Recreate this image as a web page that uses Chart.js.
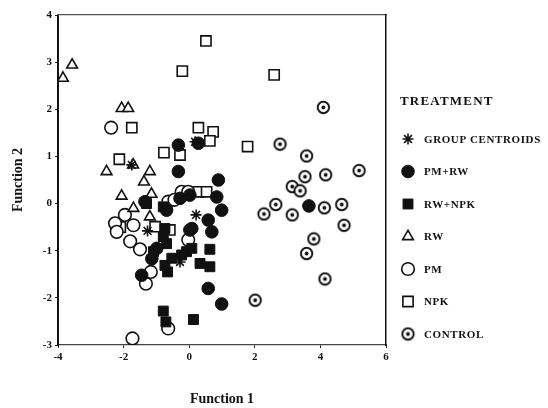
<!DOCTYPE html>
<html lang="en">
<head>
    <meta charset="UTF-8">
    <title>Discriminant functions by treatment</title>
    <script src="https://cdn.jsdelivr.net/npm/chart.js@4.4.0/dist/chart.umd.min.js"></script>
    <style>
        html, body { margin: 0; padding: 0; background: #fff; }
        #wrap { width: 548px; height: 408px; }
    </style>
</head>
<body>
    <div id="wrap"><canvas id="dfChart" width="548" height="408"></canvas></div>

    <script>
        // Function 1 / Function 2 scores
        const centroidX = [0.18, 0.21, -1.27, -0.28, -1.75, 3.65];
        const centroidY = [1.31, -0.24, -0.58, -1.24, 0.82, -0.05];

        const pmrwX = [-0.33, 0.28, -0.33, 0.89, 0.84, 0.99, 0.58, 0.69, 0.02, 0.58, 0.99, 0.02, -0.28, -1.35, -0.99, -1.45, -0.69, -1.14, 0.08, 3.65];
        const pmrwY = [1.24, 1.28, 0.68, 0.50, 0.14, -0.14, -0.35, -0.60, -0.56, -1.80, -2.13, 0.18, 0.11, 0.04, -0.95, -1.52, -0.14, -1.17, -0.53, -0.05];

        const rwnpkX = [-0.79, -0.71, 0.13, -0.66, 0.33, 0.63, 0.63, -0.74, -0.69, -0.53, -0.08, 0.08, -1.09, -0.79, -0.74, -0.23, -1.30, -0.79];
        const rwnpkY = [-2.28, -2.51, -2.46, -1.45, -1.27, -1.34, -0.97, -0.53, -0.85, -1.16, -1.02, -0.95, -1.02, -0.70, -1.31, -1.09, 0.00, -0.07];

        const rwX = [-3.85, -3.57, -2.06, -1.86, -2.52, -1.71, -1.20, -1.38, -2.06, -1.70, -1.20, -1.15];
        const rwY = [2.66, 2.94, 2.02, 2.02, 0.68, 0.82, 0.68, 0.46, 0.16, -0.10, -0.28, 0.20];

        const pmX = [-2.38, -1.73, -0.64, -1.32, -1.17, -2.26, -2.21, -1.96, -1.70, -1.80, -1.50, -0.64, -0.45, -0.23, -0.03, -0.03];
        const pmY = [1.61, -2.86, -2.65, -1.70, -1.45, -0.42, -0.60, -0.24, -0.46, -0.80, -0.97, 0.04, 0.08, 0.25, 0.25, -0.77];

        const npkX = [0.51, -0.21, 2.59, 0.28, 0.73, 0.63, -0.77, -0.28, 1.78, -1.75, -2.13, -1.04, -0.59, 0.28, 0.53, -2.10];
        const npkY = [3.45, 2.81, 2.73, 1.61, 1.52, 1.33, 1.08, 1.03, 1.21, 1.61, 0.94, -0.49, -0.56, 0.25, 0.25, -0.50];

        const controlX = [4.09, 2.77, 3.58, 3.53, 4.16, 5.18, 3.14, 3.38, 2.64, 2.28, 3.14, 4.12, 4.65, 4.72, 3.80, 3.58, 4.14, 2.01];
        const controlY = [2.04, 1.26, 1.01, 0.57, 0.61, 0.70, 0.36, 0.27, -0.02, -0.22, -0.24, -0.09, -0.02, -0.46, -0.75, -1.06, -1.60, -2.05];

        const xTicks = [-4, -2, 0, 2, 4, 6];
        const yTicks = [-3, -2, -1, 0, 1, 2, 3, 4];

        const serif = "'Liberation Serif', 'DejaVu Serif', serif";

        function toPoints(xs, ys) {
            return xs.map((x, i) => ({ x: x, y: ys[i] }));
        }

        // circle with a dot in the middle, for the control plots
        function dotCircle() {
            const c = document.createElement('canvas');
            c.width = 15;
            c.height = 15;
            const g = c.getContext('2d');
            g.fillStyle = '#fff';
            g.strokeStyle = '#111';
            g.lineWidth = 1.9;
            g.beginPath();
            g.arc(7.5, 7.5, 5.7, 0, Math.PI * 2);
            g.fill();
            g.stroke();
            g.fillStyle = '#111';
            g.beginPath();
            g.arc(7.5, 7.5, 1.9, 0, Math.PI * 2);
            g.fill();
            return c;
        }

        const datasets = [
            { label: 'GROUP CENTROIDS', data: toPoints(centroidX, centroidY), pointStyle: 'star', pointRadius: 5.5, borderColor: '#111', backgroundColor: '#111', borderWidth: 1.6 },
            { label: 'PM+RW', data: toPoints(pmrwX, pmrwY), pointStyle: 'circle', pointRadius: 6.3, borderColor: '#111', backgroundColor: '#111', borderWidth: 1 },
            { label: 'RW+NPK', data: toPoints(rwnpkX, rwnpkY), pointStyle: 'rect', pointRadius: 7, borderColor: '#111', backgroundColor: '#111', borderWidth: 1 },
            { label: 'RW', data: toPoints(rwX, rwY), pointStyle: 'triangle', pointRadius: 6.2, borderColor: '#111', backgroundColor: '#fff', borderWidth: 1.6 },
            { label: 'PM', data: toPoints(pmX, pmY), pointStyle: 'circle', pointRadius: 6.3, borderColor: '#111', backgroundColor: '#fff', borderWidth: 1.6 },
            { label: 'NPK', data: toPoints(npkX, npkY), pointStyle: 'rect', pointRadius: 7.2, borderColor: '#111', backgroundColor: '#fff', borderWidth: 1.6 },
            { label: 'CONTROL', data: toPoints(controlX, controlY), pointStyle: dotCircle(), pointRadius: 7, borderColor: '#111', backgroundColor: '#fff', borderWidth: 1 }
        ];

        // legend drawn by hand so it sits where the scan has it
        const treatmentLegend = {
            id: 'treatmentLegend',
            afterDraw(chart) {
                const ctx = chart.ctx;
                const left = chart.chartArea.right + 14;
                ctx.save();
                ctx.fillStyle = '#111';
                ctx.textBaseline = 'middle';
                ctx.font = 'bold 13px ' + serif;
                ctx.letterSpacing = '1.2px';
                ctx.fillText('TREATMENT', left, 102);
                ctx.font = 'bold 11px ' + serif;
                ctx.letterSpacing = '0.6px';
                chart.data.datasets.forEach((ds, i) => {
                    const y = 139 + i * 32.5;
                    ctx.strokeStyle = ds.borderColor;
                    ctx.fillStyle = ds.backgroundColor;
                    ctx.lineWidth = ds.borderWidth;
                    Chart.helpers.drawPoint(ctx, {
                        pointStyle: ds.pointStyle,
                        radius: ds.pointRadius,
                        rotation: 0,
                        borderWidth: ds.borderWidth
                    }, left + 8, y);
                    ctx.fillStyle = '#111';
                    ctx.fillText(ds.label, left + 24, y + 1);
                });
                ctx.restore();
            }
        };

        const tickFont = { family: serif, size: 11, weight: 'bold' };
        const titleFont = { family: serif, size: 14, weight: 'bold' };

        new Chart(document.getElementById('dfChart'), {
            type: 'scatter',
            data: { datasets: datasets },
            options: {
                responsive: false,
                animation: false,
                layout: { padding: { right: 162 } },
                plugins: {
                    legend: { display: false },
                    tooltip: { enabled: false }
                },
                scales: {
                    x: {
                        type: 'linear',
                        min: -4,
                        max: 6,
                        afterBuildTicks: axis => { axis.ticks = xTicks.map(v => ({ value: v })); },
                        afterFit: axis => { axis.height = 63; },
                        ticks: { color: '#111', font: tickFont, padding: 3 },
                        grid: { drawOnChartArea: false, drawTicks: true, tickLength: 3, color: '#222' },
                        border: { color: '#444', width: 1.3, dash: [3, 1] },
                        title: { display: true, text: 'Function 1', color: '#111', font: titleFont, padding: { top: 2, bottom: 0 } }
                    },
                    y: {
                        type: 'linear',
                        min: -3,
                        max: 4,
                        afterBuildTicks: axis => { axis.ticks = yTicks.map(v => ({ value: v })); },
                        afterFit: axis => { axis.width = 58; },
                        ticks: { color: '#111', font: tickFont, padding: 3 },
                        grid: { drawOnChartArea: false, drawTicks: true, tickLength: 3, color: '#222' },
                        border: { color: '#111', width: 2 },
                        title: { display: true, text: 'Function 2', color: '#111', font: titleFont, padding: { top: 10, bottom: 0 } }
                    },
                    xTop: {
                        type: 'linear',
                        position: 'top',
                        min: -4,
                        max: 6,
                        afterFit: axis => { axis.height = 15; },
                        ticks: { display: false },
                        grid: { drawOnChartArea: false, drawTicks: false },
                        border: { color: '#555', width: 1.3, dash: [2, 1] }
                    },
                    yRight: {
                        type: 'linear',
                        position: 'right',
                        min: -3,
                        max: 4,
                        afterFit: axis => { axis.width = 0; },
                        ticks: { display: false },
                        grid: { drawOnChartArea: false, drawTicks: false },
                        border: { color: '#111', width: 1.5 }
                    }
                }
            },
            plugins: [treatmentLegend]
        });
    </script>
</body>
</html>
